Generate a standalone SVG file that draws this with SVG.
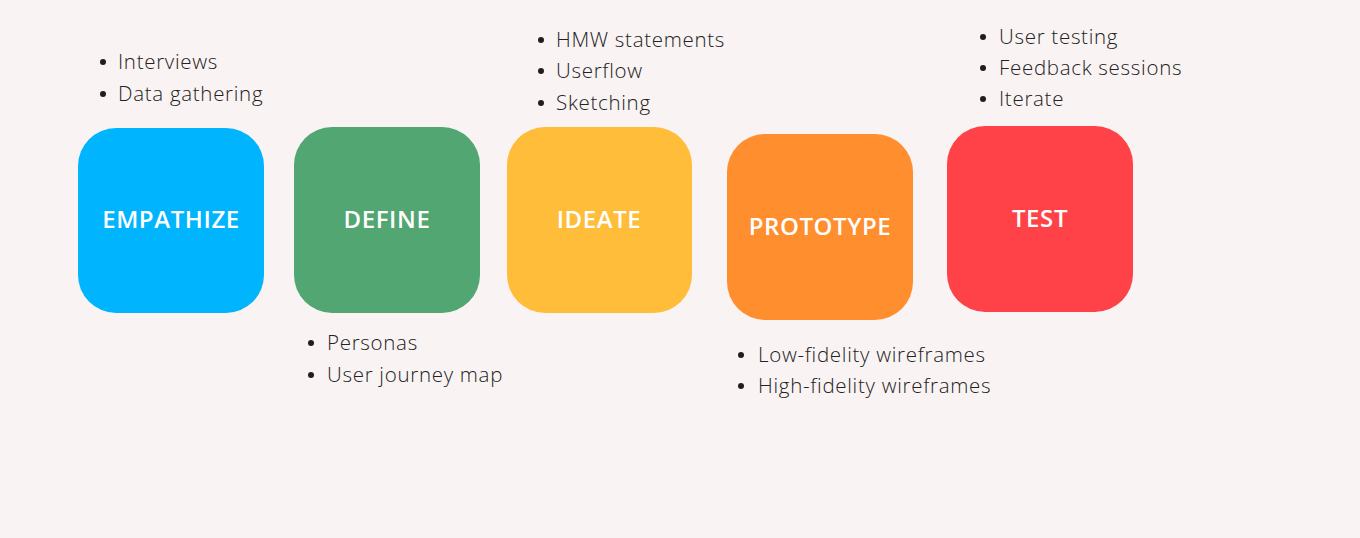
<svg xmlns="http://www.w3.org/2000/svg" width="1360" height="538" viewBox="0 0 1360 538">
  <style>
    .box { stroke: none; }
    .label { font-family: "Open Sans", "Liberation Sans", sans-serif; font-weight: 600; font-size: 24px; letter-spacing: 0.6px; fill: #ffffff; text-anchor: middle; }
    .item { font-family: "Open Sans", "Liberation Sans", sans-serif; font-weight: 300; font-size: 20.5px; letter-spacing: 0.7px; fill: #222222; }
    .dot { fill: #1e1e1e; }
  </style>
  <rect width="1360" height="538" fill="#f9f3f3"/>

  <g id="connectors"/>

  <g id="empathize">
    <rect class="box" x="78" y="128" width="186" height="185" rx="38" fill="#00b4fe"/>
    <text class="label" x="171" y="228">EMPATHIZE</text>
    <circle class="dot" cx="103" cy="62" r="3"/>
    <text class="item" x="118" y="69">Interviews</text>
    <circle class="dot" cx="103" cy="94" r="3"/>
    <text class="item" x="118" y="101">Data gathering</text>
  </g>

  <g id="define">
    <rect class="box" x="294" y="127" width="186" height="186" rx="38" fill="#52a672"/>
    <text class="label" x="387" y="228">DEFINE</text>
    <circle class="dot" cx="311" cy="343" r="3"/>
    <text class="item" x="327" y="350">Personas</text>
    <circle class="dot" cx="311" cy="375" r="3"/>
    <text class="item" x="327" y="382">User journey map</text>
  </g>

  <g id="ideate">
    <rect class="box" x="507" y="127" width="185" height="186" rx="38" fill="#ffbd3a"/>
    <text class="label" x="599" y="228">IDEATE</text>
    <circle class="dot" cx="541" cy="40" r="3"/>
    <text class="item" x="556" y="47">HMW statements</text>
    <circle class="dot" cx="541" cy="71" r="3"/>
    <text class="item" x="556" y="78">Userflow</text>
    <circle class="dot" cx="541" cy="103" r="3"/>
    <text class="item" x="556" y="110">Sketching</text>
  </g>

  <g id="prototype">
    <rect class="box" x="727" y="134" width="186" height="186" rx="38" fill="#ff8e2f"/>
    <text class="label" x="820" y="235">PROTOTYPE</text>
    <circle class="dot" cx="741" cy="355" r="3"/>
    <text class="item" x="758" y="362">Low-fidelity wireframes</text>
    <circle class="dot" cx="741" cy="386" r="3"/>
    <text class="item" x="758" y="393">High-fidelity wireframes</text>
  </g>

  <g id="test">
    <rect class="box" x="947" y="126" width="186" height="186" rx="38" fill="#ff4248"/>
    <text class="label" x="1040" y="227">TEST</text>
    <circle class="dot" cx="983" cy="37" r="3"/>
    <text class="item" x="999" y="44">User testing</text>
    <circle class="dot" cx="983" cy="68" r="3"/>
    <text class="item" x="999" y="75">Feedback sessions</text>
    <circle class="dot" cx="983" cy="99" r="3"/>
    <text class="item" x="999" y="106">Iterate</text>
  </g>
</svg>
